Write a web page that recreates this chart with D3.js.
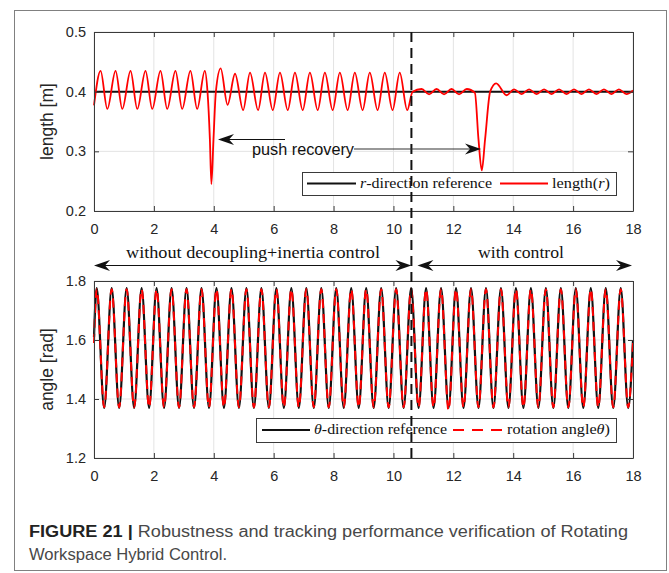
<!doctype html>
<html>
<head>
<meta charset="utf-8">
<style>
  body { margin: 0; background: #fff; }
  svg { display: block; }
  .serif { font-family: 'Liberation Serif', 'DejaVu Serif', serif; fill: #111; }
</style>
<script src="https://d3js.org/d3.v7.min.js"></script>
</head>
<body>
<script>
// ---- data ----
var xTicks = [0, 2, 4, 6, 8, 10, 12, 14, 16, 18];
var lengthTicks = [0.2, 0.3, 0.4, 0.5];
var angleTicks = [1.2, 1.4, 1.6, 1.8];

var switchTime = 10.6;   // dashed line: control switched on
var lengthRef = [[0, 0.4], [18, 0.4]];

// length(r): peaks / troughs and the two push dips
var lengthTimes = [0, 0.22, 0.445, 0.72, 0.945, 1.22, 1.445, 1.72, 1.945, 2.22, 2.445, 2.72, 2.945,
  3.22, 3.445, 3.70, 3.79, 3.87, 3.92, 3.99, 4.07, 4.23, 4.46, 4.71, 4.98, 5.21, 5.48, 5.71, 5.97,
  6.21, 6.47, 6.71, 6.97, 7.21, 7.47, 7.71, 7.97, 8.21, 8.47, 8.71, 8.97, 9.21, 9.47, 9.71, 9.97,
  10.21, 10.46, 10.64, 10.94, 11.19, 11.44, 11.69, 11.94, 12.19, 12.45, 12.72, 12.84, 12.95, 13.06,
  13.23, 13.43, 13.78, 14.03, 14.28, 14.53, 14.78, 15.03, 15.28, 15.53, 15.78, 16.03, 16.28, 16.53,
  16.78, 17.03, 17.28, 17.53, 17.78, 18];
var lengthValues = [0.377, 0.435, 0.371, 0.435, 0.371, 0.435, 0.371, 0.435, 0.371, 0.435, 0.371, 0.435, 0.371,
  0.435, 0.371, 0.435, 0.400, 0.320, 0.245, 0.320, 0.400, 0.439, 0.378, 0.430, 0.369, 0.432, 0.369, 0.432, 0.369,
  0.432, 0.369, 0.432, 0.369, 0.432, 0.369, 0.432, 0.369, 0.432, 0.369, 0.432, 0.369, 0.432, 0.369, 0.432, 0.369,
  0.432, 0.369, 0.400, 0.4045, 0.3955, 0.4045, 0.3955, 0.4045, 0.3955, 0.4045, 0.398, 0.320, 0.268, 0.320,
  0.400, 0.414, 0.394, 0.404, 0.396, 0.404, 0.396, 0.404, 0.396, 0.404, 0.396, 0.404, 0.396, 0.404,
  0.396, 0.404, 0.396, 0.404, 0.396, 0.402];

// rotation angle: peaks / troughs
var thetaTimes = [0, 0.09, 0.34, 0.59, 0.84, 1.09, 1.34, 1.59, 1.84, 2.09, 2.34, 2.59, 2.84, 3.09, 3.34,
  3.59, 3.84, 4.09, 4.34, 4.59, 4.84, 5.09, 5.34, 5.59, 5.84, 6.09, 6.34, 6.59, 6.84, 7.09, 7.34, 7.59,
  7.84, 8.09, 8.34, 8.59, 8.84, 9.09, 9.34, 9.59, 9.84, 10.09, 10.34, 10.59, 10.84, 11.09, 11.34, 11.59,
  11.84, 12.09, 12.34, 12.59, 12.84, 13.09, 13.34, 13.59, 13.84, 14.09, 14.34, 14.59, 14.84, 15.09, 15.34,
  15.59, 15.84, 16.09, 16.34, 16.59, 16.84, 17.09, 17.34, 17.59, 17.84, 18];
var thetaRef = [1.61, 1.776, 1.370, 1.776, 1.370, 1.776, 1.370, 1.776, 1.370, 1.776, 1.370, 1.776, 1.370, 1.776, 1.370,
  1.776, 1.370, 1.776, 1.370, 1.776, 1.370, 1.776, 1.370, 1.776, 1.370, 1.776, 1.370, 1.776, 1.370, 1.776, 1.370, 1.776,
  1.370, 1.776, 1.370, 1.776, 1.370, 1.776, 1.370, 1.776, 1.370, 1.776, 1.370, 1.776, 1.370, 1.776, 1.370, 1.776,
  1.370, 1.776, 1.370, 1.776, 1.370, 1.776, 1.370, 1.776, 1.370, 1.776, 1.370, 1.776, 1.370, 1.776, 1.370,
  1.776, 1.370, 1.776, 1.370, 1.776, 1.370, 1.776, 1.370, 1.776, 1.370, 1.60];
var thetaAct = [1.59, 1.772, 1.372, 1.772, 1.372, 1.772, 1.372, 1.772, 1.372, 1.772, 1.372, 1.772, 1.372, 1.772, 1.372,
  1.772, 1.372, 1.772, 1.372, 1.772, 1.372, 1.772, 1.372, 1.772, 1.372, 1.772, 1.372, 1.772, 1.372, 1.772, 1.372, 1.772,
  1.372, 1.772, 1.372, 1.772, 1.372, 1.772, 1.372, 1.772, 1.372, 1.772, 1.372, 1.772, 1.372, 1.772, 1.372, 1.772,
  1.362, 1.772, 1.372, 1.772, 1.372, 1.772, 1.372, 1.772, 1.372, 1.772, 1.372, 1.772, 1.372, 1.772, 1.372,
  1.772, 1.372, 1.772, 1.372, 1.772, 1.372, 1.772, 1.372, 1.772, 1.372, 1.59];

// ---- drawing ----
var svg = d3.select("body").append("svg").attr("width", 669).attr("height", 573);

svg.append("rect").attr("x", 14.5).attr("y", 10.5).attr("width", 652).attr("height", 560)
  .attr("fill", "#fff").attr("stroke", "#808080");

var x = d3.scaleLinear().domain([0, 18]).range([94, 633]);
var yLen = d3.scaleLinear().domain([0.2, 0.5]).range([211, 32]);
var yAng = d3.scaleLinear().domain([1.2, 1.8]).range([458, 281]);

function grid(y, yTicks) {
  var g = svg.append("g").attr("stroke", "#e3e3e3").attr("stroke-width", 1);
  g.selectAll(null).data(xTicks).join("line")
    .attr("x1", d => x(d)).attr("x2", d => x(d))
    .attr("y1", y.range()[0]).attr("y2", y.range()[1]);
  g.selectAll(null).data(yTicks).join("line")
    .attr("x1", x.range()[0]).attr("x2", x.range()[1])
    .attr("y1", d => y(d)).attr("y2", d => y(d));
}

function axes(y, yTicks, label) {
  var yb = y.range()[0], yt = y.range()[1];
  var font = "'Liberation Sans', Arial, sans-serif";
  var parts = [
    svg.append("g").attr("transform", "translate(0," + yb + ")")
      .call(d3.axisBottom(x).tickValues(xTicks).tickSizeInner(-5).tickSizeOuter(0).tickPadding(13).tickFormat(d3.format("d"))),
    svg.append("g").attr("transform", "translate(0," + yt + ")")
      .call(d3.axisTop(x).tickValues(xTicks).tickSizeInner(-5).tickSizeOuter(0).tickFormat("")),
    svg.append("g").attr("transform", "translate(" + x.range()[0] + ",0)")
      .call(d3.axisLeft(y).tickValues(yTicks).tickSizeInner(-5).tickSizeOuter(0).tickPadding(8).tickFormat(d3.format(".1f"))),
    svg.append("g").attr("transform", "translate(" + x.range()[1] + ",0)")
      .call(d3.axisRight(y).tickValues(yTicks).tickSizeInner(-5).tickSizeOuter(0).tickFormat(""))
  ];
  parts.forEach(function (a) {
    a.style("color", "#3a3a3a").attr("font-family", font).attr("font-size", 14.5);
    a.selectAll("text").attr("fill", "#262626");
  });
  svg.append("text")
    .attr("transform", "translate(53," + ((yb + yt) / 2) + ") rotate(-90)")
    .attr("text-anchor", "middle")
    .attr("font-family", font).attr("font-size", 17.5).attr("fill", "#262626")
    .text(label);
}

var line = function (y) {
  return d3.line().x(d => x(d[0])).y(d => y(d[1])).curve(d3.curveMonotoneX);
};

// top panel
grid(yLen, lengthTicks);
svg.append("path").datum(lengthRef).attr("d", line(yLen))
  .attr("fill", "none").attr("stroke", "#111").attr("stroke-width", 2);
svg.append("path").datum(d3.zip(lengthTimes, lengthValues)).attr("d", line(yLen))
  .attr("fill", "none").attr("stroke", "#ff0000").attr("stroke-width", 1.8);
axes(yLen, lengthTicks, "length [m]");

// bottom panel
grid(yAng, angleTicks);
svg.append("path").datum(d3.zip(thetaTimes, thetaRef)).attr("d", line(yAng))
  .attr("fill", "none").attr("stroke", "#111").attr("stroke-width", 2.2);
svg.append("path").datum(d3.zip(thetaTimes, thetaAct)).attr("d", line(yAng))
  .attr("fill", "none").attr("stroke", "#ff0000").attr("stroke-width", 2)
  .attr("stroke-dasharray", "9,6");
axes(yAng, angleTicks, "angle [rad]");

// legends
function legend(box, items, ty) {
  svg.append("rect").attr("x", box[0] + 0.5).attr("y", box[1] + 0.5)
    .attr("width", box[2] - box[0]).attr("height", box[3] - box[1])
    .attr("fill", "#fff").attr("stroke", "#3a3a3a").attr("stroke-width", 1);
  var cy = (box[1] + box[3]) / 2;
  items.forEach(function (it) {
    svg.append("line").attr("x1", it.l[0]).attr("x2", it.l[1]).attr("y1", cy).attr("y2", cy)
      .attr("stroke", it.c).attr("stroke-width", 2).attr("stroke-dasharray", it.dash || null);
    var t = svg.append("text").attr("class", "serif").attr("x", it.tx).attr("y", ty)
      .attr("font-size", 15.5).attr("textLength", it.tw).attr("lengthAdjust", "spacingAndGlyphs");
    it.parts.forEach(function (p) {
      t.append("tspan").attr("font-style", p[1] ? "italic" : null).text(p[0]);
    });
  });
}
legend([302, 172, 616, 195], [
  { l: [307, 356], c: "#111", tx: 360, tw: 132, parts: [["r", 1], ["-direction reference", 0]] },
  { l: [500, 548], c: "#ff0000", tx: 552, tw: 58, parts: [["length(", 0], ["r", 1], [")", 0]] }
], 187.5);
legend([256, 418, 616, 442], [
  { l: [262, 310], c: "#111", tx: 314, tw: 133, parts: [["θ", 1], ["-direction reference", 0]] },
  { l: [453, 503], c: "#ff0000", dash: "11,8", tx: 507, tw: 103, parts: [["rotation angle", 0], ["θ", 1], [")", 0]] }
], 434);

// switch-over line
svg.append("line").attr("x1", x(switchTime)).attr("x2", x(switchTime))
  .attr("y1", yLen.range()[1]).attr("y2", yAng.range()[0])
  .attr("stroke", "#111").attr("stroke-width", 2).attr("stroke-dasharray", "10,6");

// arrows
function arrow(x0, x1, yy, heads, color) {
  var L = 16, W = 11, N = 11;
  var a = x0, b = x1;
  if (heads.indexOf("start") >= 0) a = x0 + N;
  if (heads.indexOf("end") >= 0) b = x1 - N;
  svg.append("line").attr("x1", a).attr("x2", b).attr("y1", yy).attr("y2", yy)
    .attr("stroke", color || "#111").attr("stroke-width", 1.1);
  function head(tx, d) {
    svg.append("path")
      .attr("d", "M" + tx + "," + yy + "L" + (tx - d * L) + "," + (yy - W / 2) +
        "L" + (tx - d * N) + "," + yy + "L" + (tx - d * L) + "," + (yy + W / 2) + "Z")
      .attr("fill", "#111");
  }
  if (heads.indexOf("start") >= 0) head(x0, -1);
  if (heads.indexOf("end") >= 0) head(x1, 1);
}
arrow(x(0), x(switchTime), 265.5, ["start", "end"]);
arrow(x(switchTime) + 6, x(18) - 1, 265.5, ["start", "end"]);
svg.append("text").attr("class", "serif").attr("x", 253).attr("y", 257.5).attr("text-anchor", "middle")
  .attr("font-size", 16).attr("textLength", 254).attr("lengthAdjust", "spacingAndGlyphs")
  .text("without decoupling+inertia control");
svg.append("text").attr("class", "serif").attr("x", 521).attr("y", 257.5).attr("text-anchor", "middle")
  .attr("font-size", 16).attr("textLength", 86).attr("lengthAdjust", "spacingAndGlyphs")
  .text("with control");

// push recovery
arrow(218, 285, 139.5, ["start"]);
arrow(354, 481, 149, ["end"], "#333");
svg.append("text").attr("x", 252).attr("y", 155)
  .attr("font-family", "'Liberation Sans', Arial, sans-serif").attr("font-size", 16).attr("fill", "#111")
  .attr("textLength", 102).attr("lengthAdjust", "spacingAndGlyphs")
  .text("push recovery");

// caption
var cap = svg.append("text").attr("x", 29).attr("y", 537)
  .attr("font-family", "'Liberation Sans', Arial, sans-serif").attr("font-size", 16).attr("fill", "#484848")
  .attr("textLength", 599).attr("lengthAdjust", "spacingAndGlyphs");
cap.append("tspan").attr("font-weight", "bold").attr("fill", "#222").text("FIGURE 21 | ");
cap.append("tspan").text("Robustness and tracking performance verification of Rotating");
svg.append("text").attr("x", 29).attr("y", 560)
  .attr("font-family", "'Liberation Sans', Arial, sans-serif").attr("font-size", 16).attr("fill", "#484848")
  .attr("textLength", 198).attr("lengthAdjust", "spacingAndGlyphs")
  .text("Workspace Hybrid Control.");
</script>
</body>
</html>
